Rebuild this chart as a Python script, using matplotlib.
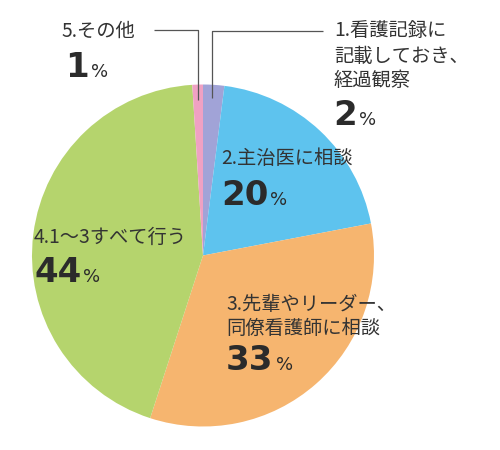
import matplotlib
matplotlib.use("Agg")
import matplotlib.pyplot as plt

plt.rcParams['font.family'] = ['Noto Sans CJK JP', 'DejaVu Sans']

# data
categories = ["1.看護記録に\n記載しておき、\n経過観察", "2.主治医に相談",
              "3.先輩やリーダー、\n同僚看護師に相談", "4.1〜3すべて行う", "5.その他"]
values = [2, 20, 33, 44, 1]
colors = ["#a1a3d7", "#5ec3ee", "#f6b56f", "#b5d46d", "#efa1c3"]

W, H = 500, 450
fig = plt.figure(figsize=(W / 100, H / 100), dpi=100)
ax = fig.add_axes([0, 0, 1, 1])

def Y(y):
    return H - y

cx, cy, r = 203, 255.5, 171
ax.pie(values, colors=colors, startangle=90, counterclock=False,
       center=(cx, Y(cy)), radius=r, frame=True,
       wedgeprops=dict(linewidth=0))
ax.set_xlim(0, W)
ax.set_ylim(0, H)
ax.set_aspect('equal')
ax.axis('off')

txt = "#333333"
num_c = "#2b2b2b"
lab_fs = 13.9
num_fs = 24.5
pct_fs = 13

def label(lines, x, ycenters):
    for line, yc in zip(lines, ycenters):
        ax.text(x, Y(yc), line, fontsize=lab_fs, color=txt, ha='left', va='center')

def number(val, x, ybase):
    t = ax.text(x, Y(ybase), str(val), fontsize=num_fs, fontweight='bold',
                family='DejaVu Sans', color=num_c, ha='left', va='baseline')
    ax.annotate('%', xy=(1, Y(ybase)), xycoords=(t, 'data'), xytext=(1.5, 0),
                textcoords='offset points', fontsize=pct_fs, family='DejaVu Sans',
                color=num_c, ha='left', va='baseline')

labs = [c.split("\n") for c in categories]

# 1
label(labs[0], 334, [30, 56, 80])
number(values[0], 333, 125)
# 2
label(labs[1], 221, [158])
number(values[1], 221, 205)
# 3
label(labs[2], 226, [304, 328])
number(values[2], 226, 370)
# 4
label(labs[3], 34, [237])
number(values[3], 34, 282)
# 5
label(labs[4], 61, [31])
number(values[4], 65, 77)

# leader lines
lc = "#555555"
ax.plot([154, 198, 198], [Y(30), Y(30), Y(100)], color=lc, lw=0.9, solid_capstyle='butt')
ax.plot([323, 212, 212], [Y(31), Y(31), Y(98)], color=lc, lw=0.9, solid_capstyle='butt')

fig.savefig("out.png", dpi=100)
